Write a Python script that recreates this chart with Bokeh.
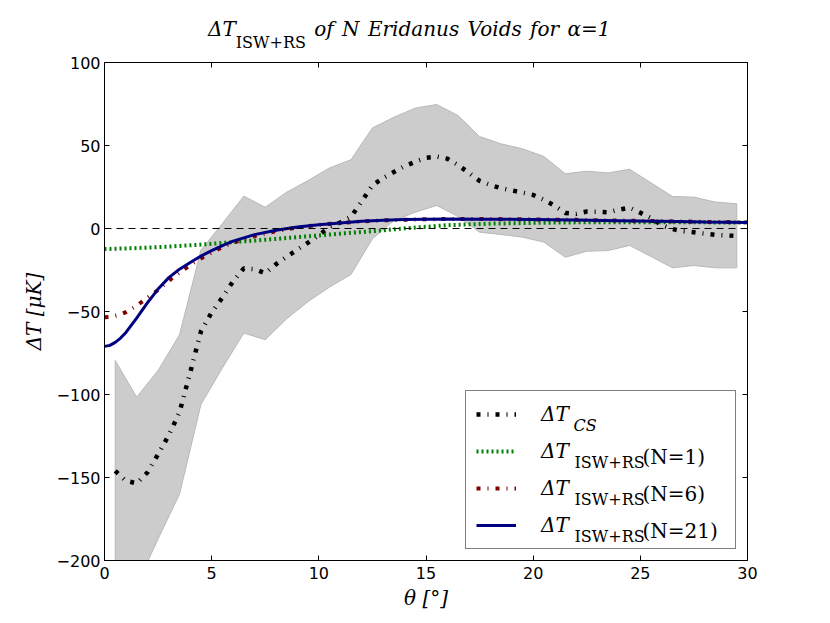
from bokeh.plotting import figure
from bokeh.layouts import column
from bokeh.models import (Range1d, LinearAxis, FixedTicker, CustomJSTickFormatter,
                          Span, Legend, LegendItem, Div)
from bokeh.core.properties import value
from bokeh.embed import file_html
from bokeh.resources import INLINE

# ---------------- data ----------------
band_x = [0.5, 1.5, 2.5, 3.5, 4.5, 5.5, 6.5, 7.5, 8.5, 9.5, 10.5, 11.5, 12.5, 13.5, 14.5,
          15.5, 16.5, 17.5, 18.5, 19.5, 20.5, 21.5, 22.5, 23.5, 24.5, 25.5, 26.5, 27.5, 28.5, 29.5]
band_upper = [-79.5, -101.6, -85.5, -64.0, -13.0, 3.0, 19.5, 12.8, 21.9, 28.9, 36.5, 41.4, 60.6, 67.0, 72.5,
              74.7, 68.0, 55.4, 51.0, 48.0, 43.4, 33.0, 34.5, 33.5, 35.7, 27.5, 19.3, 18.9, 15.9, 14.9]
band_lower = [-250.0, -215.0, -187.0, -160.0, -106.0, -84.0, -63.0, -67.0, -54.4, -44.0, -35.3, -27.7, -6.2, 4.8, 9.8,
              13.9, 7.2, -2.2, -3.6, -5.2, -8.2, -17.3, -13.7, -13.3, -10.2, -16.9, -23.7, -22.3, -23.7, -23.7]

cs_x = [0.5, 1.0, 1.5, 2.0, 2.5, 3.0, 3.5, 4.0, 4.5, 5.0, 5.5, 6.0, 6.5, 7.0, 7.5, 8.0, 8.5, 9.0, 9.5, 10.0,
        10.5, 11.0, 11.5, 12.0, 12.5, 13.0, 13.5, 14.0, 14.5, 15.0, 15.5, 16.0, 16.5, 17.0, 17.5, 18.0, 18.5,
        19.0, 19.5, 20.0, 20.5, 21.0, 21.5, 22.0, 22.5, 23.0, 23.5, 24.0, 24.5, 25.0, 25.5, 26.0, 26.5, 27.0,
        27.5, 28.0, 28.5, 29.0, 29.5]
cs_y = [-146.0, -152.0, -153.5, -147.0, -136.0, -124.5, -110.7, -86.7, -62.0, -50.5, -41.6, -31.8, -24.0, -24.5,
        -27.0, -21.5, -17.0, -12.7, -8.5, -4.0, 1.0, 3.6, 7.0, 16.3, 26.0, 30.4, 34.0, 37.6, 40.2, 42.6, 43.3,
        42.0, 38.2, 33.5, 28.7, 26.2, 24.3, 23.0, 21.6, 20.2, 17.3, 13.7, 9.4, 8.8, 10.2, 10.1, 9.8, 11.3, 12.6,
        9.5, 6.3, 2.0, -0.3, -1.7, -2.3, -3.1, -3.8, -4.2, -4.5]

th_x = [0, 0.25, 0.5, 0.75, 1, 1.5, 2, 2.5, 3, 3.5, 4, 4.5, 5, 5.5, 6, 7, 8, 9, 10, 11, 12, 13, 14, 15, 16, 18,
        20, 22, 24, 26, 28, 30]
n1_y = [-12.3, -12.3, -12.2, -12.1, -12.0, -11.8, -11.5, -11.2, -10.9, -10.5, -10.1, -9.7, -9.2, -8.7, -8.2,
        -7.3, -6.3, -5.2, -4.2, -3.1, -2.1, -1.1, 0.1, 1.0, 2.0, 2.9, 3.4, 3.7, 3.8, 3.8, 3.7, 3.6]
n6_y = [-53.5, -53.3, -52.6, -51.7, -50.4, -46.5, -41.8, -37.0, -31.5, -26.5, -22.0, -18.0, -14.5, -11.2, -8.5,
        -4.6, -1.6, 0.6, 2.2, 3.3, 4.2, 4.9, 5.3, 5.6, 5.7, 5.7, 5.5, 5.2, 4.8, 4.4, 4.0, 3.7]
n21_y = [-71.0, -70.4, -68.6, -66.0, -62.6, -54.0, -44.8, -36.5, -29.6, -24.5, -20.5, -16.6, -13.3, -10.3, -7.6,
         -3.7, -1.0, 0.9, 2.3, 3.3, 4.3, 5.0, 5.4, 5.6, 5.7, 5.6, 5.4, 5.1, 4.7, 4.3, 3.9, 3.6]

x_ticks = [0, 5, 10, 15, 20, 25, 30]
y_ticks = [-200, -150, -100, -50, 0, 50, 100]

legend_main = ["ΔT", "ΔT", "ΔT", "ΔT"]
legend_sub_cs = ["CS"]
legend_sub_isw = ["ISW+RS", "ISW+RS", "ISW+RS"]
legend_tail = ["(N=1)", "(N=6)", "(N=21)"]

XMIN, XMAX, YMIN, YMAX = 0, 30, -200, 100

# ---------------- layout (picture pixels of the frame) ----------------
FL, FR, FT, FB = 104, 747, 62, 560
W, H = 822, 615
DIV_H = 50


def dx(px):
    return XMIN + (px - FL) / (FR - FL) * (XMAX - XMIN)


def dy(py):
    return YMAX - (py - FT) / (FB - FT) * (YMAX - YMIN)


SERIF = "DejaVu Serif"

p = figure(width=W, height=H - DIV_H, output_backend="svg", toolbar_location=None,
           x_range=Range1d(XMIN, XMAX), y_range=Range1d(YMIN, YMAX),
           min_border_left=FL, min_border_right=W - FR, min_border_top=FT - DIV_H,
           min_border_bottom=H - FB, margin=0)
p.xgrid.visible = False
p.ygrid.visible = False
p.outline_line_color = "black"
p.outline_line_width = 1
p.background_fill_color = "white"
p.border_fill_color = "white"

fmt = CustomJSTickFormatter(code="return tick < 0 ? '\\u2212' + Math.abs(tick) : String(tick);")
blank = CustomJSTickFormatter(code="return '';")

for ax in (p.xaxis[0], p.yaxis[0]):
    ax.formatter = fmt
    ax.major_label_text_font = "DejaVu Sans"
    ax.major_label_text_font_size = "16px"
    ax.major_label_text_color = "black"
    ax.major_tick_in = 5
    ax.major_tick_out = 0
    ax.minor_tick_in = 0
    ax.minor_tick_out = 0
    ax.axis_line_color = "black"
    ax.major_tick_line_color = "black"
    ax.axis_label_text_font = SERIF
    ax.axis_label_text_font_style = "italic"
    ax.axis_label_text_font_size = "20px"
    ax.axis_label_text_color = "black"

p.xaxis[0].ticker = FixedTicker(ticks=x_ticks)
p.yaxis[0].ticker = FixedTicker(ticks=y_ticks)
p.xaxis[0].major_label_standoff = 6
p.yaxis[0].major_label_standoff = 4
p.xaxis[0].axis_label = "θ [°]"
p.yaxis[0].axis_label = "ΔT [μK]"
p.xaxis[0].axis_label_standoff = 4
p.yaxis[0].axis_label_standoff = 8

top = LinearAxis(ticker=FixedTicker(ticks=x_ticks), formatter=blank,
                 major_tick_in=5, major_tick_out=0, minor_tick_in=0, minor_tick_out=0,
                 major_label_standoff=0, major_label_text_font_size="0px",
                 axis_line_color="black")
right = LinearAxis(ticker=FixedTicker(ticks=y_ticks), formatter=blank,
                   major_tick_in=5, major_tick_out=0, minor_tick_in=0, minor_tick_out=0,
                   major_label_standoff=0, major_label_text_font_size="0px",
                   axis_line_color="black")
p.add_layout(top, "above")
p.add_layout(right, "right")

# grey band
p.patch(band_x + band_x[::-1], band_upper + band_lower[::-1],
        fill_color="#cccccc", fill_alpha=1.0, line_color="#b8b8b8", line_width=1)

# zero reference
p.add_layout(Span(location=0, dimension="width", line_color="black",
                  line_width=1.2, line_dash="7 5"))

r_cs = p.line(cs_x, cs_y, line_color="black", line_width=4.5, line_dash="4 7 1 7")
r_n1 = p.line(th_x, n1_y, line_color="#008000", line_width=4, line_dash="2 3")
r_n6 = p.line(th_x, n6_y, line_color="#800000", line_width=4, line_dash="4 7 1 7")
r_n21 = p.line(th_x, n21_y, line_color="#000080", line_width=3)

# legend sub- and tail-texts (legend box is see-through, the area below it is empty)
rows = [412 + 37.3 * i for i in range(4)]
p.text(x=[dx(573)], y=[dy(rows[0] + 12.5)], text=legend_sub_cs,
       text_font=value(SERIF), text_font_size="16px",
       text_font_style="italic", text_color="black", text_baseline="alphabetic",
       text_align="left")
p.text(x=[dx(574)] * 3, y=[dy(r + 12.5) for r in rows[1:]], text=legend_sub_isw,
       text_font=value(SERIF), text_font_size="16px",
       text_font_style="normal", text_color="black", text_baseline="alphabetic",
       text_align="left")
p.text(x=[dx(642)] * 3, y=[dy(r + 7) for r in rows[1:]], text=legend_tail,
       text_font=value(SERIF), text_font_size="20px", text_color="black",
       text_baseline="alphabetic", text_align="left")

legend = Legend(items=[LegendItem(label=value(t), renderers=[r])
                       for t, r in zip(legend_main, (r_cs, r_n1, r_n6, r_n21))],
                location="bottom_right", margin=11, padding=10, spacing=11,
                glyph_width=40, glyph_height=26, label_height=26, label_width=184,
                label_standoff=25, border_line_color="black", border_line_width=1,
                background_fill_color="white", background_fill_alpha=0.0,
                label_text_font=SERIF, label_text_font_style="italic",
                label_text_font_size="20px", label_text_color="black")
p.add_layout(legend)

title_html = (
    f'<div style="position:relative;width:{W}px;height:{DIV_H}px;'
    f'font-family:\'{SERIF}\';color:black;">'
    '<div style="position:absolute;left:208px;top:19px;font-size:20px;'
    'line-height:20px;white-space:nowrap;word-spacing:2px;">'
    '<span style="font-style:italic;">ΔT</span>'
    '<span style="font-size:16px;vertical-align:-12px;">ISW+RS</span>'
    '<span style="font-style:italic;"> of N Eridanus Voids for α=1</span>'
    '</div></div>'
)
title = Div(text=title_html, width=W, height=DIV_H, margin=0)

layout = column(title, p, spacing=0, margin=0)

open("out.html", "w").write(file_html(layout, INLINE))
